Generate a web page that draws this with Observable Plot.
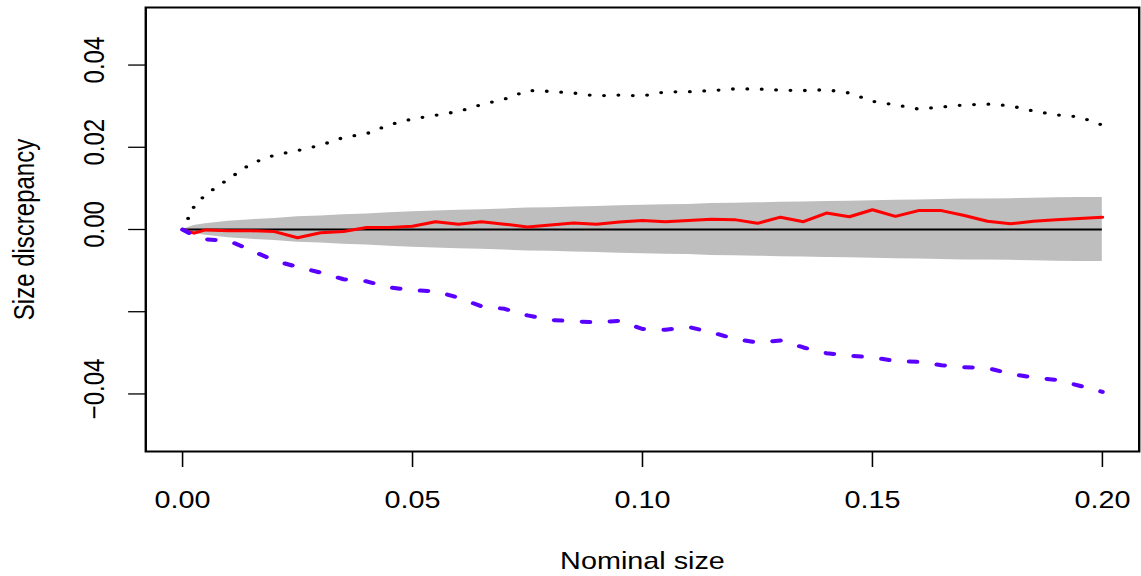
<!DOCTYPE html>
<html><head><meta charset="utf-8">
<script src="https://cdn.jsdelivr.net/npm/d3@7"></script>
<script src="https://cdn.jsdelivr.net/npm/@observablehq/plot@0.6"></script>
<style>
html,body{margin:0;padding:0;background:#fff;overflow:hidden;}
#chart{width:1141px;height:576px;overflow:hidden;}
#chart svg{transform:scaleX(1.19979);transform-origin:0 0;display:block;}
</style></head><body><div id="chart"></div>
<script>
// Nominal size (x)
const nominal = [0, 0.0025, 0.005, 0.01, 0.015, 0.02, 0.025, 0.03, 0.035, 0.04,
  0.045, 0.05, 0.055, 0.06, 0.065, 0.07, 0.075, 0.08, 0.085, 0.09,
  0.095, 0.10, 0.105, 0.11, 0.115, 0.12, 0.125, 0.13, 0.135, 0.14,
  0.145, 0.15, 0.155, 0.16, 0.165, 0.17, 0.175, 0.18, 0.185, 0.19,
  0.195, 0.20];
// Solid red series
const redDiscrepancy = [0, -0.0009, -0.0001, -0.0003, -0.0003, -0.0005, -0.002, -0.0008, -0.0005, 0.0005,
  0.0005, 0.0008, 0.0019, 0.0013, 0.0019, 0.0013, 0.0006, 0.0011, 0.0016, 0.0013,
  0.0018, 0.0022, 0.0019, 0.0022, 0.0025, 0.0024, 0.0015, 0.003, 0.0019, 0.004,
  0.0031, 0.0048, 0.0032, 0.0046, 0.0046, 0.0034, 0.002, 0.0014, 0.002, 0.0024,
  0.0027, 0.003];
// Dotted black series
const upperDiscrepancy = [0, 0.0056, 0.0085, 0.0123, 0.0161, 0.0181, 0.0192, 0.0205, 0.0224, 0.0233,
  0.0255, 0.0269, 0.0278, 0.0287, 0.0304, 0.0317, 0.0338, 0.0336, 0.0332, 0.0325,
  0.0327, 0.0325, 0.0335, 0.0335, 0.0338, 0.0342, 0.0342, 0.0339, 0.0338, 0.034,
  0.0332, 0.0312, 0.0303, 0.0293, 0.0298, 0.0303, 0.0305, 0.0301, 0.0288, 0.0279,
  0.0274, 0.0254];
// Dashed purple series
const lowerDiscrepancy = [0, -0.0015, -0.0024, -0.0027, -0.0051, -0.0076, -0.0091, -0.0105, -0.0121, -0.0126,
  -0.0141, -0.0148, -0.015, -0.0166, -0.0187, -0.0193, -0.0209, -0.022, -0.0223, -0.0226,
  -0.0222, -0.0242, -0.0244, -0.0237, -0.025, -0.0266, -0.0275, -0.027, -0.0287, -0.0301,
  -0.0307, -0.0311, -0.032, -0.0322, -0.033, -0.0335, -0.0337, -0.0351, -0.036, -0.0366,
  -0.038, -0.0395];
// Grey band half-width (symmetric around zero)
const bandHalfWidth = [0, 0.001, 0.0014, 0.002, 0.0024, 0.0027, 0.0031, 0.0033, 0.0036, 0.0038,
  0.0041, 0.0043, 0.0045, 0.0047, 0.0048, 0.005, 0.0052, 0.0053, 0.0055, 0.0056,
  0.0058, 0.0059, 0.006, 0.0061, 0.0063, 0.0064, 0.0065, 0.0066, 0.0067, 0.0068,
  0.0069, 0.007, 0.0071, 0.0072, 0.0073, 0.0074, 0.0074, 0.0075, 0.0076, 0.0077,
  0.0078, 0.0078];
const xTicks = [0, 0.05, 0.10, 0.15, 0.20];
const yTicks = [-0.04, -0.02, 0, 0.02, 0.04];
const yUnlabeled = [-0.02];
const xTitle = "Nominal size";
const yTitle = "Size discrepancy";

const table = nominal.map((x, i) => ({
  x, red: redDiscrepancy[i], upper: upperDiscrepancy[i], lower: lowerDiscrepancy[i],
  lo: -bandHalfWidth[i], hi: bandHalfWidth[i]
}));
const fmt = d3.format(".2f");

const chart = Plot.plot({
  width: 951, height: 576,
  marginLeft: 121, marginRight: 2, marginTop: 7, marginBottom: 125,
  style: {fontFamily: "'Liberation Sans', Arial, Helvetica, sans-serif", fontSize: "24px", color: "black", background: "white", overflow: "visible"},
  x: {domain: [-0.008, 0.208]},
  y: {domain: [-0.054, 0.054]},
  marks: [
    Plot.areaY(table, {x: "x", y1: "lo", y2: "hi", fill: "#bebebe"}),
    Plot.ruleY([0], {x1: nominal[0], x2: nominal[nominal.length - 1], stroke: "black", strokeWidth: 1.8}),
    Plot.lineY(table, {x: "x", y: "red", stroke: "#ff0000", strokeWidth: 3}),
    Plot.lineY(table, {x: "x", y: "upper", stroke: "black", strokeWidth: 3.3, strokeDasharray: "0,12", strokeLinecap: "round"}),
    Plot.lineY(table, {x: "x", y: "lower", stroke: "#5a00ff", strokeWidth: 4, strokeDasharray: "6.5,16.8", strokeLinecap: "round"}),
    Plot.frame({stroke: "black", strokeWidth: 2}),
    Plot.axisX({ticks: xTicks, tickFormat: fmt, tickSize: 16, tickPadding: 23, strokeWidth: 1.3,
      label: xTitle, labelAnchor: "center", labelArrow: "none", labelOffset: 117}),
    // tick marks only
    Plot.axisY({ticks: yTicks, tickFormat: () => "", tickSize: 14.2, strokeWidth: 1.3, label: null}),
    // tick labels, rotated
    Plot.axisY({ticks: yTicks, tickFormat: d => yUnlabeled.includes(d) ? "" : fmt(d), tickSize: 0, tickPadding: 35,
      tickRotate: -90, dy: -5, label: null}),
    // axis title
    Plot.axisY({ticks: [], tickSize: 0, tickFormat: () => "", dy: -4,
      label: yTitle, labelAnchor: "center", labelArrow: "none", labelOffset: 110})
  ]
});
document.getElementById("chart").appendChild(chart);
</script>
</body></html>
